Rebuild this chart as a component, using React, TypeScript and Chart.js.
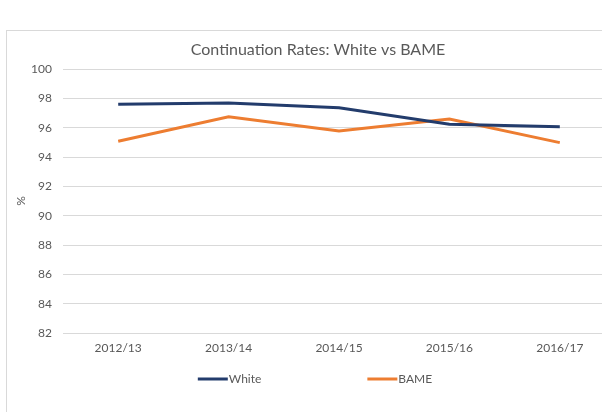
import React, { useEffect, useRef } from "react";
import { Chart, registerables } from "chart.js";

Chart.register(...registerables);

const categories = ["2012/13", "2013/14", "2014/15", "2015/16", "2016/17"];
const whiteValues = [97.6, 97.68, 97.36, 96.23, 96.07];
const bameValues = [95.07, 96.75, 95.78, 96.59, 94.98];
const seriesNames = ["White", "BAME"];
const seriesColors = ["#233c6c", "#ed7d31"];
const yMin = 82;
const yMax = 100;
const yStep = 2;
const titleText = "Continuation Rates: White vs BAME";
const yAxisLabel = "%";

const FONT = "Lato, 'DejaVu Sans', sans-serif";
const TEXT_COLOR = "#595959";
const CANVAS_W = 634;
const CANVAS_H = 412;

const overlayPlugin = {
  id: "overlay",
  afterDraw(chart: any) {
    const ctx = chart.ctx;
    const cx = chart.width / 2;
    ctx.save();
    // title
    ctx.fillStyle = TEXT_COLOR;
    ctx.font = `16px ${FONT}`;
    ctx.textAlign = "center";
    ctx.textBaseline = "middle";
    ctx.fillText(titleText, cx + 1, 50);
    // y axis label
    ctx.save();
    ctx.translate(21, (chart.chartArea.top + chart.chartArea.bottom) / 2);
    ctx.rotate(-Math.PI / 2);
    ctx.font = `12px ${FONT}`;
    ctx.fillText(yAxisLabel, 0, 0);
    ctx.restore();
    // legend
    ctx.font = `12px ${FONT}`;
    const lineLen = 30;
    const gapText = 1;
    const gapItems = 106;
    const items = chart.data.datasets.map((ds: any) => ({
      label: ds.label,
      color: ds.borderColor,
      w: lineLen + gapText + ctx.measureText(ds.label).width,
    }));
    const total = items.reduce((a: number, it: any) => a + it.w, 0) + gapItems * (items.length - 1);
    let x = cx - 2 - total / 2;
    const y = 379;
    ctx.textAlign = "left";
    items.forEach((it: any) => {
      ctx.strokeStyle = it.color;
      ctx.lineWidth = 3;
      ctx.beginPath();
      ctx.moveTo(x, y);
      ctx.lineTo(x + lineLen, y);
      ctx.stroke();
      ctx.fillStyle = TEXT_COLOR;
      ctx.fillText(it.label, x + lineLen + gapText, y + 0.5);
      x += it.w + gapItems;
    });
    ctx.restore();
  },
};

export default function App() {
  const ref = useRef<HTMLCanvasElement>(null);
  useEffect(() => {
    if (!ref.current) return;
    const chart = new Chart(ref.current, {
      type: "line",
      data: {
        labels: categories,
        datasets: [
          {
            label: seriesNames[0],
            data: whiteValues,
            borderColor: seriesColors[0],
            backgroundColor: seriesColors[0],
            borderWidth: 3,
            pointRadius: 0,
            tension: 0,
          },
          {
            label: seriesNames[1],
            data: bameValues,
            borderColor: seriesColors[1],
            backgroundColor: seriesColors[1],
            borderWidth: 3,
            pointRadius: 0,
            tension: 0,
          },
        ],
      },
      options: {
        responsive: false,
        animation: false,
        devicePixelRatio: 1,
        layout: { padding: { left: 0, top: 69, right: CANVAS_W - 615, bottom: CANVAS_H - 333 - 30 } },
        plugins: {
          legend: { display: false },
          title: { display: false },
          tooltip: { enabled: false },
        },
        scales: {
          x: {
            offset: true,
            grid: { display: false, drawTicks: false },
            border: { display: false },
            ticks: { color: TEXT_COLOR, font: { family: FONT, size: 12 }, padding: 8, maxRotation: 0 },
            afterFit(scale: any) {
              scale.height = 30;
            },
          },
          y: {
            min: yMin,
            max: yMax,
            ticks: { stepSize: yStep, color: TEXT_COLOR, font: { family: FONT, size: 12 }, padding: 11 },
            grid: { color: "#d9d9d9", lineWidth: 1, drawTicks: false },
            border: { display: false },
            afterFit(scale: any) {
              scale.width = 63;
            },
          },
        },
      },
      plugins: [overlayPlugin],
    });
    return () => chart.destroy();
  }, []);
  return (
    <div style={{ position: "absolute", left: 0, top: 0, width: 602, height: 412, overflow: "hidden", background: "#fff" }}>
      <div style={{ position: "absolute", left: 6, top: 30, width: 800, height: 800, border: "1px solid #d9d9d9" }} />
      <canvas ref={ref} width={CANVAS_W} height={CANVAS_H} style={{ position: "absolute", left: 0, top: 0, width: CANVAS_W, height: CANVAS_H }} />
    </div>
  );
}
